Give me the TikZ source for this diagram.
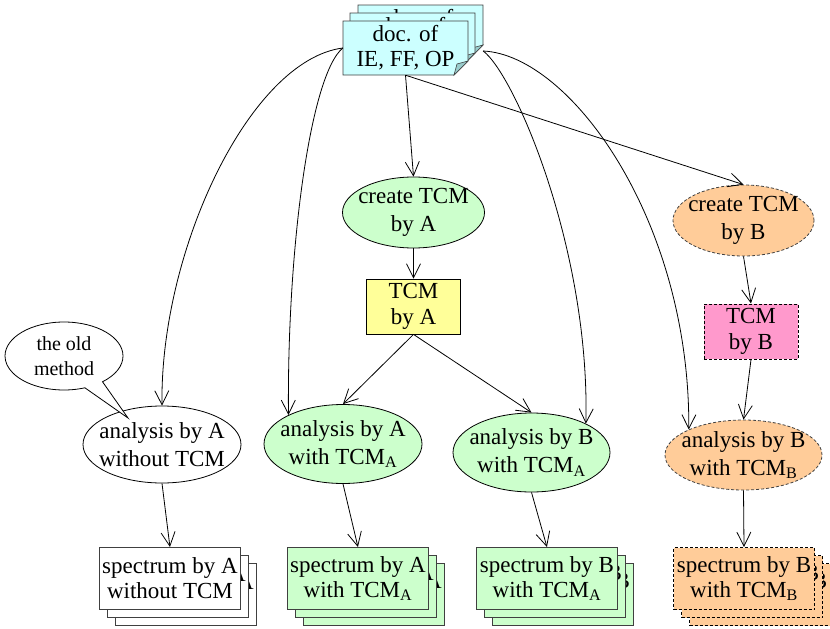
\documentclass[tikz,border=0pt]{standalone}
\usepackage{fontspec}
\setmainfont{Liberation Serif}
\usetikzlibrary{arrows.meta,shapes.geometric,shapes.callouts,calc}

\definecolor{docfill}{HTML}{CCFFFF}
\definecolor{docfold}{HTML}{99CCCC}
\definecolor{greenfill}{HTML}{CCFFCC}
\definecolor{yellowfill}{HTML}{FFFF99}
\definecolor{peachfill}{HTML}{FFCC99}
\definecolor{pinkfill}{HTML}{FF99CC}
\definecolor{edgegray}{HTML}{404040}

\tikzset{
  every node/.style={align=center, font=\fontsize{23}{28}\selectfont},
  link/.style={draw=black, line width=0.8pt, -{Straight Barb[length=14pt,width=14pt]}},
  oval/.style={ellipse, draw=black, line width=0.8pt, inner sep=-25pt},
  whiteoval/.style={oval, fill=white},
  greenoval/.style={oval, fill=greenfill},
  peachoval/.style={oval, fill=peachfill, draw=edgegray, dash pattern=on 3pt off 2pt},
  tcmbox/.style={rectangle, draw=black, line width=0.8pt, minimum width=94pt,
    minimum height=55pt, inner sep=0pt, font=\fontsize{23}{26}\selectfont},
  sheet/.style={rectangle, draw=edgegray, line width=0.9pt, minimum width=141pt,
    minimum height=62pt, inner sep=0pt, anchor=north west, font=\fontsize{23}{25}\selectfont},
  dashedsheet/.style={draw=black, line width=1pt, dash pattern=on 3pt off 2pt}
}

% one sheet of the document pile, folded corner at the lower right
\newcommand{\docsheet}[3]{%
  \filldraw[fill=docfill, draw=edgegray, line width=0.8pt]
    (#1,#2) -- (#1+125,#2) -- (#1+125,#2+40) -- (#1+111,#2+54) -- (#1,#2+54) -- cycle;
  \filldraw[fill=docfold, draw=edgegray, line width=0.6pt]
    (#1+125,#2+40) -- (#1+111,#2+54) -- (#1+114,#2+43) -- cycle;
  \node[minimum width=125pt, minimum height=54pt, inner sep=0pt,
    font=\fontsize{23}{25}\selectfont] (#3) at (#1+62.5,#2+27) {doc. of\\IE, FF, OP};
}

% pile of three result sheets: x, y, style, text, name
\newcommand{\specpile}[5]{%
  \node[sheet, #3] (#5c) at (#1+16,#2+16) {#4};
  \node[sheet, #3] (#5b) at (#1+8,#2+8) {#4};
  \node[sheet, #3] (#5) at (#1,#2) {#4};
}

\begin{document}
\begin{tikzpicture}[x=1pt, y=-1pt]
\useasboundingbox (0,0) rectangle (830,629);

% source documents
\docsheet{358}{5}{docc}
\docsheet{350}{13}{docb}
\docsheet{343}{21}{doc}
\coordinate (docR) at ($(doc.east)+(15,3)$);

% TCM creation
\node[greenoval, minimum width=142pt, minimum height=71pt] (cA) at (413.5,212.5) {create TCM\\by A};
\node[peachoval, minimum width=141pt, minimum height=71pt] (cB) at (743.5,220.5) {create TCM\\by B};
\node[tcmbox, fill=yellowfill] (tA) at (413.5,306.5) {TCM\\by A};
\node[tcmbox, fill=pinkfill, line width=1pt, dash pattern=on 3pt off 2pt] (tB) at (751,331.5) {TCM\\by B};

% analyses
\node[whiteoval, minimum width=158pt, minimum height=77pt] (aN) at (162,444.5) {analysis by A\\without TCM};
\node[greenoval, minimum width=158pt, minimum height=79pt] (aA) at (343,444) {analysis by A\\with TCM\textsubscript{A}};
\node[greenoval, minimum width=157pt, minimum height=79pt] (aB) at (531.5,452.5) {analysis by B\\with TCM\textsubscript{A}};
\node[peachoval, minimum width=157pt, minimum height=70pt] (aBB) at (743.5,455) {analysis by B\\with TCM\textsubscript{B}};

% remark on the old method
\coordinate (oldtip) at (128,418);
\node[ellipse callout, draw=black, fill=white, line width=0.8pt, minimum width=118pt,
  minimum height=68pt, inner sep=-20pt, callout absolute pointer={(oldtip)},
  callout pointer arc=20, font=\fontsize{20}{25}\selectfont] (old) at (64,356) {the old\\method};

% resulting spectra
\specpile{99}{547}{fill=white}{spectrum by A\\without TCM}{sN}
\specpile{287}{547}{fill=greenfill}{spectrum by A\\with TCM\textsubscript{A}}{sA}
\specpile{476}{547}{fill=greenfill}{spectrum by B\\with TCM\textsubscript{A}}{sB}
\specpile{673}{547}{fill=peachfill, dashedsheet}{spectrum by B\\with TCM\textsubscript{B}}{sBB}

% connectors
\draw[link] (doc.south) -- (cA.north);
\draw[link] (doc.south) -- (cB.north);
\draw[link] (doc.west) .. controls (250,60) and (160,250) .. (aN.north);
\draw[link] (doc.west) .. controls (310,75) and (287,250) .. (aA.152);
\draw[link] (docR) .. controls (515,75) and (590,250) .. (aB.28);
\draw[link] (docR) .. controls (570,55) and (690,220) .. (aBB.155);
\draw[link] (cA.south) -- (tA.north);
\draw[link] (cB.south) -- (tB.north);
\draw[link] (tA.south) -- (aA.north);
\draw[link] (tA.south) -- (aB.north);
\draw[link] (tB.south) -- (aBB.north);
\draw[link] (aN.south) -- (sN.north);
\draw[link] (aA.south) -- (sA.north);
\draw[link] (aB.south) -- (sB.north);
\draw[link] (aBB.south) -- (sBB.north);
\end{tikzpicture}
\end{document}
